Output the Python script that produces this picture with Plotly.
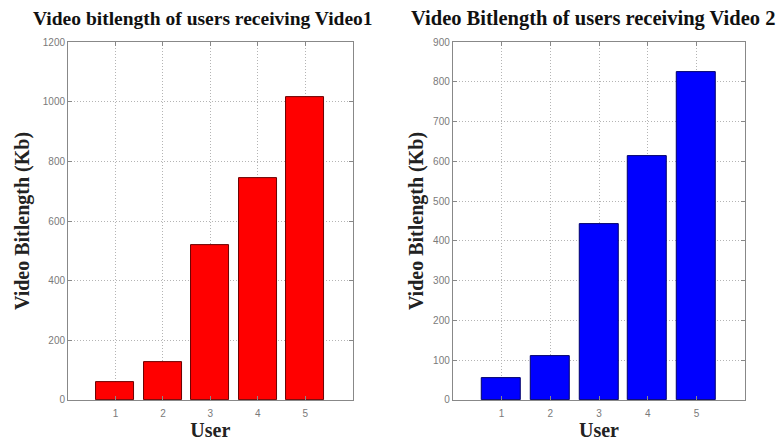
import plotly.graph_objects as go

users = [1, 2, 3, 4, 5]
video1_kb = [60, 125, 520, 745, 1015]
video2_kb = [55, 110, 443, 612, 824]

title1 = "Video bitlength of users receiving Video1"
title2 = "Video Bitlength of users receiving Video 2"
y_title = "Video Bitlength (Kb)"
x_title = "User"

y1_ticks = [0, 200, 400, 600, 800, 1000, 1200]
y2_ticks = [0, 100, 200, 300, 400, 500, 600, 700, 800, 900]

serif = "Liberation Serif, Times New Roman, serif"
sans = "Liberation Sans, Arial, sans-serif"

fig = go.Figure()
fig.add_trace(go.Bar(x=users, y=video1_kb, width=0.8,
                     marker=dict(color="#ff0000", line=dict(color="#6a0000", width=1)),
                     xaxis="x", yaxis="y", showlegend=False))
fig.add_trace(go.Bar(x=users, y=video2_kb, width=0.8,
                     marker=dict(color="#0000ff", line=dict(color="#00006a", width=1)),
                     xaxis="x2", yaxis="y2", showlegend=False))

axis_common = dict(
    showline=True, linecolor="#888888", linewidth=1, mirror="ticks",
    ticks="inside", ticklen=4, tickcolor="#888888",
    showgrid=True, gridcolor="#b4b4b4", griddash="1px,2px", gridwidth=1,
    zeroline=False,
    tickfont=dict(family=sans, size=10, color="#7a7a7a"),
)
x_title_font = dict(family=serif, size=20, color="#222")
y_title_font = dict(family=serif, size=20, color="#222")

fig.update_layout(
    width=782, height=441,
    margin=dict(l=0, r=0, t=0, b=0),
    paper_bgcolor="white", plot_bgcolor="white",
    bargap=0,
    xaxis=dict(domain=[0.087, 0.451], range=[0, 6], tickvals=users, anchor="y",
               ticklabelstandoff=4,
               title=dict(text=f"<b>{x_title}</b>", font=x_title_font, standoff=0),
               **axis_common),
    yaxis=dict(domain=[0.084, 0.916], range=[0, 1200], tickvals=y1_ticks, anchor="x",
               title=dict(text=f"<b>{y_title}</b>", font=y_title_font, standoff=7),
               **axis_common),
    xaxis2=dict(domain=[0.579, 0.953], range=[0, 6], tickvals=users, anchor="y2",
                ticklabelstandoff=4,
                title=dict(text=f"<b>{x_title}</b>", font=x_title_font, standoff=0),
                **axis_common),
    yaxis2=dict(domain=[0.084, 0.916], range=[0, 900], tickvals=y2_ticks, anchor="x2",
                title=dict(text=f"<b>{y_title}</b>", font=y_title_font, standoff=4),
                **axis_common),
    annotations=[
        dict(text=f"<b>{title1}</b>", x=203 / 782, y=1 - 13 / 441, xref="paper", yref="paper",
             xanchor="center", yanchor="middle", showarrow=False,
             font=dict(family=serif, size=19.5, color="#111")),
        dict(text=f"<b>{title2}</b>", x=593 / 782, y=1 - 13 / 441, xref="paper", yref="paper",
             xanchor="center", yanchor="middle", showarrow=False,
             font=dict(family=serif, size=20.5, color="#111")),
    ],
)

fig.write_html("out.html")
